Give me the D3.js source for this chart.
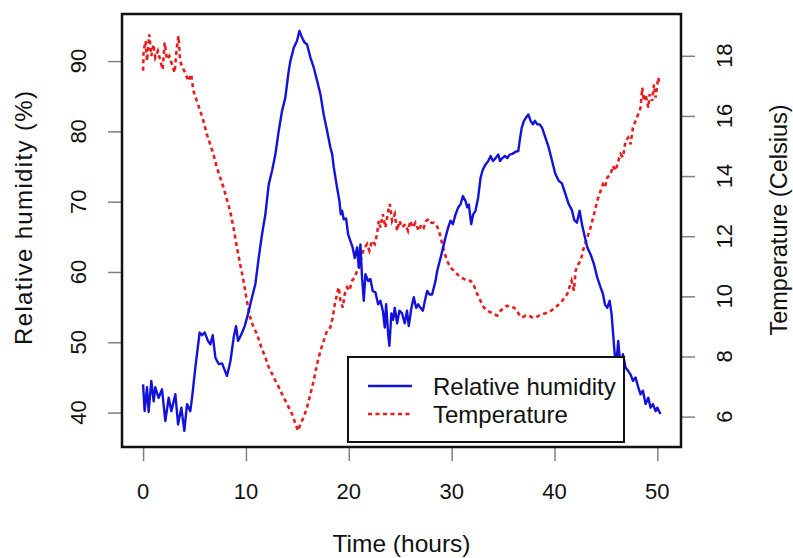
<!DOCTYPE html>
<html>
<head>
<meta charset="utf-8">
<script src="https://cdnjs.cloudflare.com/ajax/libs/d3/7.8.5/d3.min.js"></script>
<style>
  body { margin: 0; background: #fff; }
  svg text { font-family: "Liberation Sans", Arial, sans-serif; fill: #111; }
</style>
</head>
<body>
<svg id="chart" width="793" height="558"></svg>
<script>
// ----------------------------------------------------------------------------
// Data (hours, % humidity, degrees C)
// ----------------------------------------------------------------------------

const humHours = [0, 0.15, 0.38, 0.54, 0.80, 1.03, 1.19, 1.51, 1.84, 2.16, 2.49, 2.75, 3.14, 3.40, 3.72, 4.01, 4.27, 4.59, 4.76,
  5.08, 5.50, 5.73, 5.99, 6.31, 6.54, 6.77, 7.03, 7.35, 7.68, 7.84, 8.16, 8.49, 8.81, 9.04, 9.23, 9.55, 9.88,
  10.20, 10.59, 10.92, 11.24, 11.57, 11.89, 12.22, 12.54, 12.86, 13.19, 13.51, 13.83, 14.16, 14.32, 14.65, 14.97,
  15.20, 15.46, 15.72, 15.94, 16.27, 16.59, 16.92, 17.24, 17.56, 17.89, 18.21, 18.38, 18.54, 18.86, 19.09, 19.22,
  19.35, 19.51, 19.74, 19.93, 20.16, 20.37, 20.58, 20.81, 20.97, 21.13, 21.29, 21.46, 21.62, 21.88, 22.10, 22.33,
  22.59, 22.85, 23.07, 23.31, 23.50, 23.63, 23.83, 23.95, 24.14, 24.31, 24.47, 24.70, 24.92, 25.18, 25.44, 25.66,
  25.83, 26.09, 26.32, 26.55, 26.75, 26.97, 27.20, 27.40, 27.62, 27.84, 28.10, 28.27, 28.43, 28.59, 28.76, 29.01,
  29.24, 29.40, 29.66, 29.89, 30.12, 30.38, 30.64, 30.86, 31.09, 31.35, 31.51, 31.67, 31.90, 32.10, 32.32, 32.58,
  32.81, 33.04, 33.30, 33.56, 33.79, 34.02, 34.28, 34.54, 34.70, 34.93, 35.18, 35.41, 35.64, 35.90, 36.22, 36.48,
  36.61, 36.81, 37.03, 37.26, 37.46, 37.68, 37.91, 38.10, 38.33, 38.56, 38.80, 39.10, 39.42, 39.75, 40.07, 40.40,
  40.72, 41.04, 41.37, 41.69, 41.92, 42.18, 42.44, 42.67, 42.96, 43.19, 43.51, 43.84, 44.16, 44.48, 44.71, 44.90,
  45.13, 45.36, 45.55, 45.68, 45.88, 46.00, 46.20, 46.42, 46.65, 46.91, 47.17, 47.40, 47.63, 47.88, 48.14, 48.37,
  48.60, 48.86, 49.12, 49.34, 49.57, 49.83, 49.99, 50.30];

const humidity = [44.0, 40.2, 43.6, 40.1, 44.5, 41.6, 43.6, 42.1, 43.3, 38.8, 42.1, 40.2, 42.6, 38.3, 40.7, 37.4, 41.2, 40.2, 42.1,
  46.4, 51.4, 51.0, 51.4, 50.2, 49.7, 51.0, 47.8, 46.9, 47.0, 46.4, 45.2, 47.3, 50.7, 52.3, 50.2, 51.1, 52.3,
  54.0, 56.4, 58.3, 62.0, 65.4, 68.2, 72.5, 74.4, 76.7, 80.1, 82.9, 84.8, 88.6, 90.0, 91.9, 92.9,
  94.3, 93.3, 92.6, 92.4, 90.5, 89.1, 87.2, 85.3, 82.4, 80.1, 77.7, 76.8, 74.9, 72.0, 70.1, 68.2,
  68.7, 67.5, 67.6, 65.4, 64.4, 63.5, 62.0, 63.5, 60.6, 63.9, 59.2, 55.9, 59.7, 58.7, 59.0, 57.3,
  57.1, 55.4, 55.9, 54.5, 52.1, 55.4, 51.1, 49.5, 54.1, 53.2, 54.9, 52.7, 54.5, 54.1, 52.7, 54.5,
  52.3, 54.9, 56.4, 54.9, 55.4, 54.9, 54.5, 55.9, 57.3, 56.8, 56.8, 57.8, 58.7, 60.1, 61.1, 62.5,
  63.9, 64.9, 66.3, 67.3, 66.8, 68.2, 69.2, 69.6, 70.8, 70.1, 69.2, 69.6, 66.8, 68.2, 68.7, 70.6,
  73.4, 74.6, 75.3, 75.8, 76.5, 75.8, 76.2, 76.7, 75.8, 76.2, 76.5, 76.2, 76.7, 76.8, 77.1, 77.2,
  78.6, 80.5, 81.5, 82.0, 82.4, 81.5, 81.0, 81.5, 81.0, 81.0, 80.5, 79.2, 77.8, 75.9, 74.0, 73.0,
  72.6, 71.2, 69.7, 68.8, 67.4, 67.0, 68.7, 66.8, 64.9, 63.5, 62.5, 61.1, 59.2, 57.8, 56.9, 55.4,
  54.9, 55.9, 54.0, 51.6, 47.8, 46.9, 50.2, 46.4, 48.3, 46.4, 45.9, 45.4, 44.5, 45.0, 43.6, 42.6,
  43.1, 41.2, 42.1, 40.7, 41.2, 40.2, 40.7, 39.8];

const tempHours = [0, 0.05, 0.25, 0.38, 0.60, 0.80, 1.00, 1.19, 1.44, 1.68, 1.90, 2.10, 2.32, 2.55, 2.80, 3.06, 3.28, 3.44, 3.60,
  3.83, 4.09, 4.41, 4.67, 4.90, 5.22, 5.55, 5.87, 6.20, 6.52, 6.84, 7.17, 7.49, 7.82, 8.14, 8.46, 8.79, 9.12,
  9.44, 9.76, 10.09, 10.41, 10.74, 11.06, 11.45, 11.89, 12.22, 12.54, 12.86, 13.19, 13.51, 13.83, 14.16, 14.48,
  14.81, 15.07, 15.30, 15.62, 15.94, 16.27, 16.59, 16.92, 17.24, 17.56, 17.89, 18.21, 18.44, 18.64, 18.86, 19.02,
  19.19, 19.41, 19.61, 19.84, 20.06, 20.32, 20.58, 20.81, 21.03, 21.29, 21.55, 21.78, 22.00, 22.26, 22.52, 22.75,
  22.91, 23.07, 23.31, 23.56, 23.83, 23.99, 24.21, 24.47, 24.70, 24.92, 25.18, 25.50, 25.76, 25.99, 26.22, 26.48,
  26.80, 27.06, 27.29, 27.52, 27.78, 28.04, 28.27, 28.49, 28.76, 29.01, 29.24, 29.56, 29.89, 30.21, 30.54, 30.86,
  31.19, 31.51, 31.84, 32.16, 32.48, 32.81, 33.13, 33.46, 33.78, 34.11, 34.43, 34.75, 35.08, 35.40, 35.73, 36.05,
  36.38, 36.61, 36.87, 37.19, 37.52, 37.84, 38.17, 38.49, 38.82, 39.44, 40.10, 40.75, 41.24, 41.66, 41.89, 42.05,
  42.31, 42.54, 42.86, 43.19, 43.51, 43.84, 44.16, 44.48, 44.71, 44.90, 45.13, 45.45, 45.68, 45.94, 46.20, 46.42,
  46.65, 46.91, 47.17, 47.40, 47.63, 47.88, 48.14, 48.37, 48.53, 48.69, 48.86, 49.12, 49.25, 49.50, 49.67, 49.83,
  50.09, 50.22];

const temperature = [17.50, 18.16, 18.49, 17.83, 18.71, 17.99, 18.38, 17.94, 18.16, 17.83, 17.55, 18.44, 17.88, 17.99, 17.72, 17.44, 18.27, 18.66, 17.83,
  17.61, 17.44, 17.16, 17.39, 16.83, 16.50, 16.17, 15.83, 15.39, 15.06, 14.73, 14.29, 13.95, 13.62, 13.23, 12.84, 12.29, 11.63,
  11.07, 10.52, 9.85, 9.30, 8.97, 8.76, 8.35, 7.97, 7.64, 7.42, 7.20, 6.98, 6.75, 6.53, 6.31, 6.09,
  5.76, 5.53, 5.76, 5.98, 6.31, 6.75, 7.20, 7.75, 8.19, 8.52, 8.86, 8.97, 9.30, 9.74, 10.08, 10.30,
  9.85, 9.63, 10.08, 10.30, 10.19, 10.52, 10.63, 10.85, 10.96, 11.41, 11.63, 11.74, 11.52, 11.85, 11.74, 12.07,
  12.51, 12.29, 12.73, 12.29, 12.84, 13.07, 12.51, 12.73, 12.18, 12.51, 12.29, 12.40, 12.18, 12.51, 12.29, 12.45,
  12.18, 12.40, 12.29, 12.51, 12.57, 12.45, 12.45, 12.40, 12.18, 11.85, 11.52, 11.18, 10.96, 10.85, 10.74, 10.63,
  10.58, 10.52, 10.52, 10.36, 10.08, 9.85, 9.63, 9.52, 9.47, 9.41, 9.36, 9.52, 9.63, 9.69, 9.63, 9.63,
  9.52, 9.36, 9.30, 9.36, 9.36, 9.30, 9.30, 9.36, 9.41, 9.47, 9.63, 9.85, 10.08, 10.52, 10.19, 10.85,
  11.07, 11.18, 11.63, 11.96, 12.29, 12.73, 13.18, 13.51, 13.73, 13.62, 13.95, 14.06, 14.34, 14.18, 14.50, 14.73,
  14.62, 15.17, 15.28, 15.06, 15.61, 15.83, 16.06, 16.28, 16.94, 16.50, 16.72, 16.28, 16.72, 16.50, 17.05, 16.61,
  17.28, 17.05];

const xTicks = [0, 10, 20, 30, 40, 50];
const humTicks = [40, 50, 60, 70, 80, 90];
const tempTicks = [6, 8, 10, 12, 14, 16, 18];
const legendLabels = ['Relative humidity', 'Temperature'];

// ----------------------------------------------------------------------------
// Layout + scales
// ----------------------------------------------------------------------------

const svg = d3.select('#chart');
const box = {left: 122, top: 14, right: 681, bottom: 447};
const humColor = '#1212dc';
const tempColor = '#e81c1c';
const tickColor = '#808080';

const xScale = d3.scaleLinear().domain([-2.05, 52.3]).range([box.left, box.right]);
const yHum = d3.scaleLinear().domain([35.1, 96.7]).range([box.bottom, box.top]);
const yTemp = d3.scaleLinear().domain([4.99, 19.39]).range([box.bottom, box.top]);

// ----------------------------------------------------------------------------
// Axes (ticks from d3 axes, labels placed with the same scales)

const styleTicks = (g) => {
  g.select('.domain').remove();
  g.selectAll('.tick line').attr('stroke', tickColor).attr('stroke-width', 1.5);
};

svg.append('g')
  .attr('transform', `translate(0,${box.bottom})`)
  .call(d3.axisBottom(xScale).tickValues(xTicks).tickSize(14).tickFormat(''))
  .call(styleTicks);

svg.append('g')
  .attr('transform', `translate(${box.left},0)`)
  .call(d3.axisLeft(yHum).tickValues(humTicks).tickSize(14).tickFormat(''))
  .call(styleTicks);

svg.append('g')
  .attr('transform', `translate(${box.right},0)`)
  .call(d3.axisRight(yTemp).tickValues(tempTicks).tickSize(14).tickFormat(''))
  .call(styleTicks);

svg.append('g').selectAll('text')
  .data(xTicks)
  .enter()
  .append('text')
  .attr('x', d => xScale(d))
  .attr('y', 499)
  .attr('text-anchor', 'middle')
  .style('font-size', '22px')
  .text(d => d);

svg.append('g').selectAll('text')
  .data(humTicks)
  .enter()
  .append('text')
  .attr('transform', d => `translate(86,${yHum(d)}) rotate(-90)`)
  .attr('text-anchor', 'middle')
  .style('font-size', '22px')
  .text(d => d);

svg.append('g').selectAll('text')
  .data(tempTicks)
  .enter()
  .append('text')
  .attr('transform', d => `translate(732,${yTemp(d)}) rotate(-90)`)
  .attr('text-anchor', 'middle')
  .style('font-size', '22px')
  .text(d => d);

// axis titles
svg.append('text')
  .attr('x', (box.left + box.right) / 2)
  .attr('y', 552)
  .attr('text-anchor', 'middle')
  .style('font-size', '24.5px')
  .text('Time (hours)');

svg.append('text')
  .attr('transform', `translate(32,218) rotate(-90)`)
  .attr('text-anchor', 'middle')
  .attr('textLength', 254)
  .attr('lengthAdjust', 'spacing')
  .style('font-size', '24px')
  .text('Relative humidity (%)');

svg.append('text')
  .attr('transform', `translate(787,220) rotate(-90)`)
  .attr('text-anchor', 'middle')
  .style('font-size', '23.5px')
  .text('Temperature (Celsius)');

// ----------------------------------------------------------------------------
// Lines

const humLine = d3.line()
  .x((d, i) => xScale(humHours[i]))
  .y(d => yHum(d));

const tempLine = d3.line()
  .x((d, i) => xScale(tempHours[i]))
  .y(d => yTemp(d));

svg.append('path')
  .attr('d', tempLine(temperature))
  .attr('fill', 'none')
  .attr('stroke', tempColor)
  .attr('stroke-width', 2.6)
  .attr('stroke-dasharray', '4,3.5');

svg.append('path')
  .attr('d', humLine(humidity))
  .attr('fill', 'none')
  .attr('stroke', humColor)
  .attr('stroke-width', 2.4)
  .attr('stroke-linejoin', 'round');

// plot box
svg.append('rect')
  .attr('x', box.left)
  .attr('y', box.top)
  .attr('width', box.right - box.left)
  .attr('height', box.bottom - box.top)
  .attr('fill', 'none')
  .attr('stroke', '#111')
  .attr('stroke-width', 2.5);

// ----------------------------------------------------------------------------
// Legend

const legend = svg.append('g').attr('transform', 'translate(348,357)');

legend.append('rect')
  .attr('width', 276)
  .attr('height', 85)
  .attr('fill', '#fff')
  .attr('stroke', '#111')
  .attr('stroke-width', 2);

legendLabels.forEach((label, i) => {
  const y = 29 + i * 28;
  legend.append('line')
    .attr('x1', 20).attr('x2', 64)
    .attr('y1', y).attr('y2', y)
    .attr('stroke', i == 0 ? humColor : tempColor)
    .attr('stroke-width', i == 0 ? 2.4 : 2.6)
    .attr('stroke-dasharray', i == 0 ? null : '4,3.5');
  legend.append('text')
    .attr('x', 85)
    .attr('y', y + 8.5)
    .style('font-size', '24px')
    .text(label);
});
</script>
</body>
</html>
